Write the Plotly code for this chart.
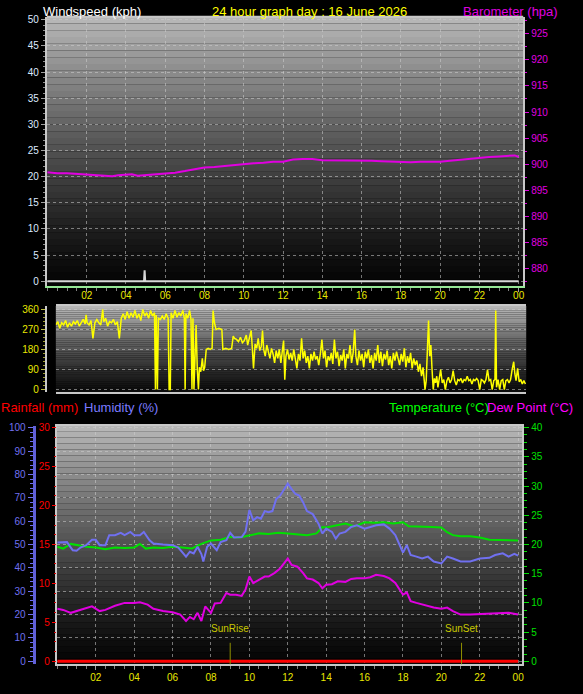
import plotly.graph_objects as go

##___Data___
hour_ticks = [2, 4, 6, 8, 10, 12, 14, 16, 18, 20, 22, 24]
hour_labels = ["02", "04", "06", "08", "10", "12", "14", "16", "18", "20", "22", "00"]

# windspeed (kph)
wind_hours = [0, 4.92, 4.95, 4.98, 24]
wind_kph = [0, 0, 2.1, 0, 0]

# barometer (hpa)
baro_hours = [0.0, 0.5, 1.0, 1.5, 2.0, 2.5, 3.0, 3.3, 3.6, 4.0, 4.3, 4.6, 5.0, 5.5, 6.0, 6.5, 7.0,
              7.5, 8.0, 8.5, 9.0, 9.5, 10.0, 10.5, 11.0, 11.5, 12.0, 12.5, 13.0, 13.5, 14.0, 14.5,
              15.0, 15.5, 16.0, 16.5, 17.0, 17.5, 18.0, 18.5, 19.0, 19.5, 20.0, 20.5, 21.0, 21.5,
              22.0, 22.5, 23.0, 23.5, 23.8, 24.0]
baro_hpa = [898.5, 898.3, 898.3, 898.2, 898.0, 897.9, 897.8, 897.7, 897.9, 898.0, 898.1, 897.8,
            897.9, 898.1, 898.2, 898.4, 898.7, 899.0, 899.4, 899.5, 899.7, 899.9, 900.0, 900.2,
            900.3, 900.5, 900.5, 900.9, 901.0, 901.0, 900.8, 900.8, 900.7, 900.7, 900.7, 900.7,
            900.6, 900.5, 900.4, 900.4, 900.5, 900.5, 900.5, 900.7, 900.9, 901.1, 901.3, 901.4,
            901.5, 901.7, 901.7, 901.4]

# wind direction (degrees)
dir_hours = [0.00, 0.10, 0.20, 0.30, 0.40, 0.50, 0.60, 0.70, 0.80, 0.90, 1.00, 1.10, 1.20, 1.30,
             1.40, 1.50, 1.55, 1.60, 1.70, 1.80, 1.90, 2.00, 2.10, 2.20, 2.30, 2.40, 2.45, 2.55,
             2.65, 2.75, 2.85, 2.95, 3.05, 3.15, 3.25, 3.35, 3.45, 3.55, 3.65, 3.75, 3.85, 3.95,
             4.05, 4.15, 4.25, 4.35, 4.45, 4.55, 4.65, 4.75, 4.85, 4.95, 5.05, 5.10, 5.14, 5.20,
             5.25, 5.35, 5.45, 5.55, 5.65, 5.75, 5.80, 5.86, 5.90, 6.00, 6.10, 6.20, 6.30, 6.40,
             6.50, 6.58, 6.62, 6.66, 6.75, 6.85, 6.92, 6.97, 7.02, 7.07, 7.12, 7.18, 7.24, 7.30,
             7.35, 7.42, 7.50, 7.56, 7.62, 7.70, 7.80, 7.90, 8.00, 8.05, 8.12, 8.20, 8.35, 8.50,
             8.55, 8.70, 8.85, 9.00, 9.08, 9.15, 9.25, 9.35, 9.45, 9.55, 9.65, 9.75, 9.82, 9.90,
             10.00, 10.06, 10.12, 10.20, 10.28, 10.36, 10.44, 10.52, 10.58, 10.64, 10.72, 10.80,
             10.88, 10.96, 11.04, 11.12, 11.20, 11.28, 11.36, 11.44, 11.52, 11.60, 11.66, 11.72,
             11.78, 11.86, 11.94, 12.02, 12.10, 12.18, 12.26, 12.34, 12.42, 12.50, 12.58, 12.66,
             12.74, 12.82, 12.90, 12.98, 13.06, 13.14, 13.22, 13.30, 13.38, 13.46, 13.54, 13.62,
             13.70, 13.78, 13.86, 13.94, 14.02, 14.10, 14.18, 14.26, 14.34, 14.42, 14.50, 14.58,
             14.66, 14.74, 14.82, 14.90, 14.98, 15.06, 15.14, 15.22, 15.30, 15.36, 15.44, 15.52,
             15.60, 15.68, 15.76, 15.84, 15.92, 16.00, 16.08, 16.16, 16.24, 16.32, 16.40, 16.48,
             16.56, 16.64, 16.72, 16.80, 16.88, 16.96, 17.04, 17.12, 17.20, 17.28, 17.36, 17.44,
             17.52, 17.60, 17.68, 17.76, 17.84, 17.92, 18.00, 18.08, 18.16, 18.24, 18.32, 18.40,
             18.48, 18.56, 18.64, 18.72, 18.80, 18.86, 18.90, 18.96, 19.02, 19.08, 19.14, 19.20,
             19.26, 19.32, 19.38, 19.44, 19.50, 19.56, 19.62, 19.70, 19.78, 19.86, 19.94, 20.02,
             20.10, 20.18, 20.26, 20.34, 20.42, 20.50, 20.58, 20.66, 20.74, 20.82, 20.90, 20.98,
             21.06, 21.14, 21.22, 21.30, 21.38, 21.46, 21.54, 21.62, 21.70, 21.78, 21.86, 21.94,
             22.02, 22.10, 22.18, 22.26, 22.34, 22.42, 22.48, 22.52, 22.56, 22.64, 22.72, 22.80,
             22.88, 22.96, 23.04, 23.12, 23.20, 23.28, 23.36, 23.44, 23.50, 23.56, 23.64, 23.72,
             23.80, 23.88, 23.96, 24.04]
dir_deg = [290, 305, 275, 300, 290, 310, 280, 300, 285, 305, 295, 310, 285, 300,
           315, 295, 335, 300, 290, 310, 230, 300, 315, 300, 290, 360, 305, 320,
           285, 305, 300, 315, 290, 305, 230, 320, 340, 315, 350, 320, 345, 325,
           355, 320, 340, 310, 360, 330, 345, 320, 355, 330, 345, 0, 335, 0,
           320, 315, 330, 315, 340, 320, 0, 0, 345, 320, 355, 325, 345, 330,
           355, 320, 0, 340, 320, 355, 315, 0, 320, 0, 110, 290, 95, 0,
           100, 80, 140, 85, 100, 180, 185, 180, 185, 355, 300, 270, 275, 270,
           180, 185, 180, 185, 240, 230, 225, 215, 235, 210, 220, 245, 200, 230,
           265, 185, 95, 205, 185, 230, 175, 195, 265, 180, 150, 200,
           175, 140, 185, 160, 120, 175, 140, 180, 120, 170, 220, 44,
           150, 180, 135, 165, 130, 180, 140, 95, 160, 130, 230, 140,
           175, 120, 150, 95, 160, 130, 170, 135, 150, 110, 160, 225,
           140, 175, 100, 150, 130, 165, 115, 225, 140, 170, 105, 155,
           130, 180, 95, 160, 140, 200, 120, 165, 270, 150, 110, 175,
           130, 160, 100, 170, 140, 180, 120, 155, 95, 165, 130, 200,
           120, 170, 105, 160, 135, 175, 110, 150, 95, 165, 130, 170,
           140, 110, 160, 125, 185, 100, 150, 120, 165, 95, 140, 110,
           130, 80, 115, 60, 100, 50, 0, 40, 180, 310, 150, 200,
           90, 0, 50, 30, 60, 10, 45, 90, 30, 45, 0, 40,
           55, 30, 45, 85, 40, 20, 45, 40, 50, 30, 45, 40,
           60, 40, 45, 25, 45, 40, 50, 40, 0, 45, 40, 30,
           45, 90, 40, 45, 0, 40, 45, 355, 10, 45, 0, 40,
           45, 0, 40, 45, 30, 45, 90, 125, 70, 40, 95, 35,
           45, 25, 40, 25]
dir_marks = [360, 270, 180, 90, 0]
compass_labels = ["N", "W", "S", "E", "N"]

# humidity (%)
hum_hours = [0.0, 0.5, 0.8, 1.0, 1.2, 1.5, 1.8, 2.0, 2.2, 2.5, 2.7, 3.0, 3.3, 3.5, 3.8, 4.0, 4.3,
             4.5, 4.8, 5.0, 5.5, 6.0, 6.3, 6.5, 6.7, 6.9, 7.1, 7.3, 7.5, 7.6, 7.8, 8.0, 8.3, 8.5,
             8.8, 9.0, 9.2, 9.6, 9.8, 10.0, 10.2, 10.4, 10.6, 10.8, 11.0, 11.2, 11.4, 11.6, 11.8,
             12.0, 12.2, 12.4, 12.6, 12.8, 13.0, 13.3, 13.6, 13.8, 14.0, 14.3, 14.5, 14.7, 15.0,
             15.3, 15.6, 16.0, 16.3, 16.6, 17.0, 17.3, 17.6, 17.8, 18.0, 18.2, 18.4, 18.7, 19.0,
             19.3, 19.6, 20.0, 20.3, 20.6, 21.0, 21.5, 22.0, 22.5, 22.8, 23.2, 23.5, 23.8, 24.0]
hum_pct = [50.8, 51.0, 47.5, 47.3, 48.7, 49.7, 52.0, 52.0, 49.7, 49.7, 54.0, 54.0, 55.0, 54.0,
           55.4, 54.0, 54.0, 55.4, 51.8, 50.4, 50.0, 49.7, 48.7, 46.9, 44.8, 46.9, 46.2, 49.0,
           45.9, 42.7, 49.0, 50.4, 47.6, 51.0, 51.8, 55.0, 53.0, 53.2, 55.5, 64.8, 60.3, 61.7,
           61.0, 64.3, 63.8, 64.3, 69.5, 70.9, 73.7, 76.1, 73.7, 71.6, 70.9, 68.0, 64.3, 63.0,
           58.9, 54.7, 56.8, 55.4, 52.5, 54.7, 55.4, 57.5, 58.2, 56.8, 57.5, 58.2, 58.6, 56.8,
           54.0, 50.4, 46.5, 49.7, 45.5, 44.8, 44.0, 44.8, 42.7, 41.9, 44.8, 44.0, 42.7, 42.7,
           44.0, 44.3, 45.5, 46.2, 44.8, 46.0, 45.2]

# temperature (C)
temp_hours = [0.0, 0.3, 0.7, 1.0, 1.5, 2.0, 2.5, 3.0, 3.5, 4.0, 4.3, 4.6, 5.0, 5.5, 6.0, 6.5, 7.0,
              7.5, 8.0, 8.5, 9.0, 9.5, 10.0, 10.5, 11.0, 11.5, 12.0, 12.5, 13.0, 13.5, 13.8, 14.0,
              14.5, 15.0, 15.5, 16.0, 16.5, 17.0, 17.5, 18.0, 18.3, 19.0, 19.5, 20.0, 20.3, 20.6,
              21.0, 21.5, 22.0, 22.5, 23.0, 23.5, 24.0]
temp_c = [19.6, 19.3, 20.1, 19.9, 19.6, 19.5, 19.2, 19.5, 19.4, 19.5, 20.1, 19.3, 19.5, 19.4,
          19.6, 19.5, 19.3, 20.1, 20.7, 20.8, 21.3, 21.2, 21.6, 21.9, 21.8, 22.0, 21.9, 21.8,
          21.6, 21.9, 23.0, 22.9, 23.3, 23.6, 23.1, 23.8, 23.7, 23.8, 23.6, 23.8, 23.1, 23.1,
          23.0, 22.9, 22.1, 21.6, 21.4, 21.4, 21.2, 20.8, 20.8, 20.8, 20.7]

# dew point (C)
dew_hours = [0.0, 0.3, 0.7, 1.0, 1.5, 1.8, 2.2, 2.5, 3.0, 3.5, 4.0, 4.3, 4.7, 5.0, 5.5, 6.0, 6.4,
             6.7, 6.9, 7.1, 7.3, 7.5, 7.7, 8.0, 8.2, 8.5, 8.8, 9.0, 9.3, 9.6, 9.8, 10.0, 10.2,
             10.5, 10.8, 11.0, 11.3, 11.6, 11.8, 12.0, 12.2, 12.5, 12.8, 13.0, 13.3, 13.6, 13.8,
             14.0, 14.3, 14.6, 15.0, 15.3, 15.6, 16.0, 16.3, 16.6, 17.0, 17.3, 17.6, 17.8, 18.0,
             18.2, 18.4, 18.7, 19.0, 19.3, 19.6, 20.0, 20.3, 20.6, 21.0, 21.5, 22.0, 22.5, 23.0,
             23.5, 24.0]
dew_c = [9.0, 8.8, 8.3, 8.6, 9.2, 9.4, 8.6, 8.8, 9.5, 10.0, 10.0, 10.1, 9.7, 9.0, 8.6, 8.4, 8.0,
         6.9, 7.6, 7.2, 8.3, 6.9, 9.4, 8.3, 9.9, 10.0, 11.7, 11.4, 11.4, 11.2, 12.3, 14.5, 13.4,
         14.0, 14.5, 14.5, 15.1, 15.9, 16.7, 17.6, 16.5, 16.2, 15.1, 14.2, 14.0, 13.4, 12.5,
         13.1, 13.2, 13.7, 13.6, 14.1, 14.2, 14.2, 14.4, 14.8, 14.6, 14.2, 13.4, 12.3, 11.4,
         11.8, 10.3, 10.0, 9.7, 9.4, 9.2, 9.0, 9.2, 8.6, 8.0, 8.0, 8.1, 8.2, 8.3, 8.3, 8.0]

# rainfall (mm)
rain_hours = [0, 24]
rain_mm = [0, 0]

sun_labels = ["SunRise", "SunSet"]
sun_hours = [9.0, 21.05]

##___Styling___
FONT = "Liberation Sans"
YELLOW = "#e8e800"
MAGENTA = "#e000e0"
HUM_BLUE = "#7070f0"
GREEN = "#00e000"
FRAME = "#c8c8c8"

fig = go.Figure()

# top panel: windspeed + barometer
fig.add_trace(go.Scatter(x=wind_hours, y=wind_kph, mode="lines", xaxis="x", yaxis="y",
                         line=dict(color="#d8d8d8", width=2)))
fig.add_trace(go.Scatter(x=baro_hours, y=baro_hpa, mode="lines", xaxis="x", yaxis="y2",
                         line=dict(color=MAGENTA, width=2)))

# middle panel: wind direction
fig.add_trace(go.Scatter(x=dir_hours, y=dir_deg, mode="lines", xaxis="x2", yaxis="y3",
                         line=dict(color="#ffff00", width=1.5)))

# bottom panel
fig.add_trace(go.Scatter(x=temp_hours, y=temp_c, mode="lines", xaxis="x3", yaxis="y5",
                         line=dict(color=GREEN, width=2)))
fig.add_trace(go.Scatter(x=dew_hours, y=dew_c, mode="lines", xaxis="x3", yaxis="y5",
                         line=dict(color=MAGENTA, width=2)))
fig.add_trace(go.Scatter(x=hum_hours, y=hum_pct, mode="lines", xaxis="x3", yaxis="y6",
                         line=dict(color=HUM_BLUE, width=2)))
fig.add_trace(go.Scatter(x=rain_hours, y=rain_mm, mode="lines", xaxis="x3", yaxis="y7",
                         line=dict(color="#ff0000", width=3)))


def add_gradient(xa, ya, top, bottom, n=40, gamma=1.25):
    # banded grey background, light at the top, dark at the bottom
    for i in range(n):
        f = (i + 0.5) / n
        g = int(bottom + (top - bottom) * f ** gamma)
        fig.add_shape(type="rect", xref=f"{xa} domain", yref=f"{ya} domain",
                      x0=0, x1=1, y0=i / n, y1=(i + 1) / n, layer="below",
                      fillcolor=f"rgb({g},{g},{g})", line_width=0)


add_gradient("x", "y", 185, 5)
add_gradient("x2", "y3", 185, 12)
add_gradient("x3", "y5", 185, 5)

# top edge of the wind panel (its x axis line is green at the bottom)
fig.add_shape(type="line", xref="x domain", yref="y domain", x0=0, x1=1, y0=1, y1=1,
              line=dict(color=FRAME, width=2))

for lbl, h in zip(sun_labels, sun_hours):
    fig.add_shape(type="line", xref="x3", yref="y5 domain", x0=h, x1=h, y0=0, y1=0.09,
                  line=dict(color="#909000", width=1))
    fig.add_annotation(x=h, xref="x3", y=0.12, yref="y5 domain", text=lbl, showarrow=False,
                       font=dict(family=FONT, size=10, color="#c8c800"))

tick_font = dict(family=FONT, size=10, color=YELLOW)
xcommon = dict(tickvals=hour_ticks, ticktext=hour_labels, showline=True, linewidth=2,
               ticks="outside", ticklen=4, tickcolor="#a0a0a0",
               minor=dict(ticks="outside", dtick=0.5, ticklen=3, tickcolor="#808080"),
               zeroline=False, tickfont=tick_font, fixedrange=True)
grid = dict(gridcolor="rgba(205,205,205,0.55)", griddash="dot", gridwidth=1)

fig.update_layout(
    width=583, height=694, autosize=False,
    margin=dict(l=0, r=0, t=0, b=0),
    paper_bgcolor="black", plot_bgcolor="black",
    showlegend=False,
    font=dict(family=FONT, size=10, color="white"),
    xaxis=dict(domain=[0.0806, 0.9005], range=[-0.03, 24.23], anchor="y",
               showgrid=True, linecolor="#98e898", mirror=False, ticklabelstandoff=-5,
               **grid, **xcommon),
    yaxis=dict(domain=[0.5893, 0.9813], range=[-0.95, 50.57], dtick=5,
               showline=True, linecolor=FRAME, linewidth=2, ticks="outside", ticklen=4,
               tickcolor="#a0a0a0", minor=dict(ticks="outside", dtick=1, ticklen=2,
                                               tickcolor="#909090"),
               tickfont=dict(family=FONT, size=10, color="#dce8ff"), zeroline=False,
               showgrid=True, **grid),
    yaxis2=dict(overlaying="y", side="right", anchor="x", range=[876.7, 928.2],
                tickvals=[880, 885, 890, 895, 900, 905, 910, 915, 920, 925],
                ticks="outside", ticklen=4, tickcolor=MAGENTA,
                minor=dict(ticks="outside", dtick=2.5, ticklen=2, tickcolor=MAGENTA),
                tickfont=dict(family=FONT, size=10, color=MAGENTA), showgrid=False,
                zeroline=False, showline=True, linecolor=FRAME, linewidth=2),
    xaxis2=dict(domain=[0.0961, 0.9057], range=[0, 24.08], anchor="y3", showgrid=False,
                showticklabels=False, showline=True, linecolor=FRAME, linewidth=2,
                mirror=True, zeroline=False),
    yaxis3=dict(domain=[0.4352, 0.5605], range=[-11, 375.5], tickvals=dir_marks,
                showline=True, linecolor=FRAME, linewidth=2, ticks="outside", ticklen=4,
                tickcolor="#c0c040", minor=dict(ticks="outside", dtick=18, ticklen=2,
                                                tickcolor="#a0a030"),
                tickfont=tick_font, zeroline=False, showgrid=True, **grid),
    yaxis4=dict(overlaying="y3", side="right", anchor="x2", range=[-11, 375.5],
                tickvals=dir_marks, ticktext=compass_labels, ticks="outside", ticklen=16,
                tickcolor="rgba(0,0,0,0)", showgrid=False, zeroline=False,
                tickfont=dict(family=FONT, size=15, color=YELLOW)),
    xaxis3=dict(domain=[0.0978, 0.8988], range=[-0.03, 24.21], anchor="y5",
                showgrid=True, linecolor=FRAME, mirror=True, ticklabelstandoff=-1,
                **grid, **xcommon),
    yaxis5=dict(domain=[0.0389, 0.3862], range=[-0.51, 40.34], side="right", anchor="x3",
                dtick=5, ticks="outside", ticklen=5, tickcolor=GREEN,
                minor=dict(ticks="outside", dtick=1.25, ticklen=3, tickcolor=GREEN),
                tickfont=dict(family=FONT, size=10, color=GREEN), showgrid=False,
                zeroline=False, showline=True, linecolor=FRAME, linewidth=2, mirror=True),
    yaxis6=dict(overlaying="y5", side="left", anchor="free", position=0.058,
                range=[-1.27, 100.85], dtick=10, ticks="outside", ticklen=5,
                tickcolor=HUM_BLUE, minor=dict(ticks="outside", dtick=2, ticklen=3,
                                               tickcolor=HUM_BLUE),
                tickfont=dict(family=FONT, size=10, color=HUM_BLUE), showline=True,
                linecolor="#6060d8", linewidth=3, zeroline=False, showgrid=True, **grid),
    yaxis7=dict(overlaying="y5", side="left", anchor="x3", range=[-0.38, 30.25], dtick=5,
                ticks="outside", ticklen=4, tickcolor="#ff0000",
                minor=dict(ticks="outside", dtick=1.25, ticklen=2, tickcolor="#d00000"),
                tickfont=dict(family=FONT, size=10, color="#ff0000"), showgrid=False,
                zeroline=False, showline=False),
)

# panel captions
caps = [
    ("Windspeed (kph)", 42, 8, "left", "white"),
    ("24 hour graph day : 16 June 2026", 311, 8, "center", "#ffff00"),
    ("Barometer (hpa)", 561, 8, "right", MAGENTA),
    ("Rainfall (mm)", 0, 408, "left", "#ff0000"),
    ("Humidity (%)", 83, 408, "left", "#7b7bff"),
    ("Temperature (°C)", 389, 408, "left", "#00ff00"),
    ("Dew Point (°C)", 576, 408, "right", "#ff00ff"),
]
for txt, px, py, anchor, col in caps:
    fig.add_annotation(text=txt, x=px / 583, y=1 - py / 694, xref="paper", yref="paper",
                       xanchor=anchor, yanchor="middle", showarrow=False, borderpad=0,
                       font=dict(family=FONT, size=13, color=col))

fig.write_html("out.html", config={"displayModeBar": False},
               post_script="document.body.style.margin='0';")
